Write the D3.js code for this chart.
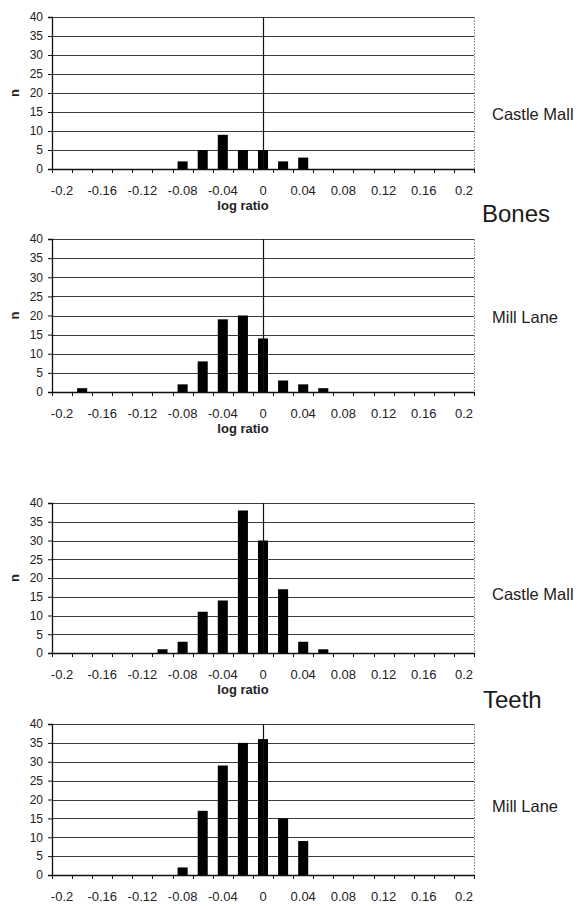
<!DOCTYPE html>
<html>
<head>
<meta charset="utf-8">
<script src="https://cdn.jsdelivr.net/npm/d3@7"></script>
<style>
  html, body { margin: 0; padding: 0; background: #fff; }
  svg { display: block; font-family: "Liberation Sans", Arial, sans-serif; }
</style>
</head>
<body>
<svg id="chart" width="581" height="906"></svg>
<script>
// Histogram bins of log ratio (bin centres, step 0.02)
const categories = ["-0.2","-0.18","-0.16","-0.14","-0.12","-0.1","-0.08","-0.06","-0.04","-0.02",
                    "0","0.02","0.04","0.06","0.08","0.1","0.12","0.14","0.16","0.18","0.2"];
const xTickLabels = ["-0.2","-0.16","-0.12","-0.08","-0.04","0","0.04","0.08","0.12","0.16","0.2"];
const yTicks = [0, 5, 10, 15, 20, 25, 30, 35, 40];

// Counts per bin
const bonesCastleMall = [0,0,0,0,0,0,2,5,9,5,5,2,3,0,0,0,0,0,0,0,0];
const bonesMillLane   = [0,1,0,0,0,0,2,8,19,20,14,3,2,1,0,0,0,0,0,0,0];
const teethCastleMall = [0,0,0,0,0,1,3,11,14,38,30,17,3,1,0,0,0,0,0,0,0];
const teethMillLane   = [0,0,0,0,0,0,2,17,29,35,36,15,9,0,0,0,0,0,0,0,0];

const panels = [
  { values: bonesCastleMall, site: "Castle Mall", top: 17,  bottom: 169, yLabel: true,  xTitle: true,  siteY: 120 },
  { values: bonesMillLane,   site: "Mill Lane",   top: 239, bottom: 392, yLabel: true,  xTitle: true,  siteY: 323 },
  { values: teethCastleMall, site: "Castle Mall", top: 503, bottom: 653, yLabel: true,  xTitle: true,  siteY: 600 },
  { values: teethMillLane,   site: "Mill Lane",   top: 724, bottom: 875, yLabel: false, xTitle: false, siteY: 812 }
];

const groups = [
  { name: "Bones", x: 482, y: 222 },
  { name: "Teeth", x: 483, y: 708 }
];

const svg = d3.select("#chart");
const left = 52, right = 474;

const x = d3.scaleBand()
  .domain(categories)
  .range([left, right])
  .paddingInner(0.5)
  .paddingOuter(0.25);
const step = x.step();

panels.forEach(p => {
  const y = d3.scaleLinear().domain([0, 40]).range([p.bottom, p.top]);
  const g = svg.append("g");

  // horizontal gridlines
  g.append("g").selectAll("line")
    .data(yTicks.filter(v => v > 0))
    .join("line")
      .attr("x1", left).attr("x2", right)
      .attr("y1", d => Math.round(y(d)) + 0.5).attr("y2", d => Math.round(y(d)) + 0.5)
      .attr("stroke", "#3a3a3a").attr("stroke-width", 1.1);

  // right frame edge
  g.append("line")
    .attr("x1", right + 0.5).attr("x2", right + 0.5)
    .attr("y1", p.top).attr("y2", p.bottom)
    .attr("stroke", "#999").attr("stroke-dasharray", "2,1");

  // bars
  g.append("g").selectAll("rect")
    .data(categories.map((c, i) => ({ c, v: p.values[i] })).filter(d => d.v > 0))
    .join("rect")
      .attr("x", d => x(d.c))
      .attr("width", x.bandwidth())
      .attr("y", d => y(d.v))
      .attr("height", d => y(0) - y(d.v))
      .attr("fill", "#000");

  // zero reference line
  const zx = Math.round(x("0") + x.bandwidth() / 2) + 0.5;
  g.append("line")
    .attr("x1", zx).attr("x2", zx)
    .attr("y1", p.top).attr("y2", p.bottom)
    .attr("stroke", "#111").attr("stroke-width", 1.2);

  // y axis
  const yAxis = g.append("g")
    .attr("transform", `translate(${left},0)`)
    .call(d3.axisLeft(y).tickValues(yTicks).tickSize(4).tickPadding(5).tickFormat(d3.format("d")));
  yAxis.select(".domain").attr("stroke", "#111").attr("stroke-width", 1.3);
  yAxis.selectAll(".tick line").attr("stroke", "#111");
  yAxis.selectAll("text").attr("font-size", 12).attr("fill", "#222");

  // x axis with labels on every other bin
  const xAxis = g.append("g")
    .attr("transform", `translate(0,${p.bottom})`)
    .call(d3.axisBottom(x).tickValues(xTickLabels).tickSize(0).tickPadding(17).tickSizeOuter(0));
  xAxis.select(".domain").attr("stroke", "#111").attr("stroke-width", 1.5);
  xAxis.selectAll("text").attr("font-size", 13).attr("fill", "#222");

  // tick marks at bin boundaries
  const bounds = categories.map(c => x(c) + x.bandwidth() / 2 - step / 2);
  bounds.push(right);
  g.append("g").selectAll("line")
    .data(bounds)
    .join("line")
      .attr("x1", d => Math.round(d) + 0.5).attr("x2", d => Math.round(d) + 0.5)
      .attr("y1", p.bottom).attr("y2", p.bottom + 4)
      .attr("stroke", "#111");

  if (p.yLabel) {
    g.append("text")
      .attr("transform", `translate(19,${(p.top + p.bottom) / 2}) rotate(-90)`)
      .attr("text-anchor", "middle")
      .attr("font-size", 13).attr("font-weight", "bold").attr("fill", "#222")
      .text("n");
  }
  if (p.xTitle) {
    g.append("text")
      .attr("x", 243).attr("y", p.bottom + 41)
      .attr("text-anchor", "middle")
      .attr("font-size", 13).attr("font-weight", "bold").attr("fill", "#222")
      .text("log ratio");
  }

  g.append("text")
    .attr("x", 492).attr("y", p.siteY)
    .attr("font-size", 16.5).attr("fill", "#222")
    .text(p.site);
});

svg.selectAll(".group-title")
  .data(groups)
  .join("text")
    .attr("class", "group-title")
    .attr("x", d => d.x).attr("y", d => d.y)
    .attr("font-size", 24).attr("fill", "#1a1a1a")
    .text(d => d.name);
</script>
</body>
</html>
